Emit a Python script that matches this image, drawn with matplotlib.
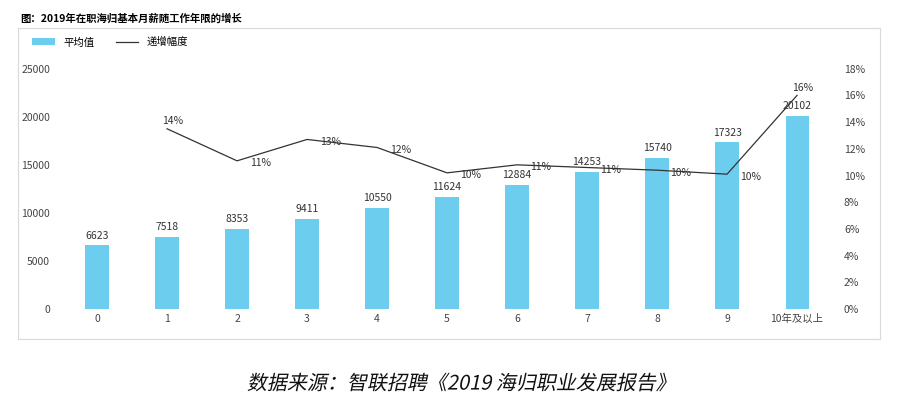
import matplotlib.pyplot as plt
from matplotlib.ticker import FuncFormatter
from matplotlib.textpath import TextPath
from matplotlib.patches import PathPatch
from matplotlib.font_manager import FontProperties
from matplotlib.transforms import Affine2D

plt.rcParams['font.family'] = ['Noto Sans CJK SC', 'DejaVu Sans']

years = ['0', '1', '2', '3', '4', '5', '6', '7', '8', '9', '10年及以上']
salary = [6623, 7518, 8353, 9411, 10550, 11624, 12884, 14253, 15740, 17323, 20102]
growth = [None, 13.5, 11.1, 12.7, 12.1, 10.2, 10.8, 10.6, 10.4, 10.1, 16.0]
growth_labels = ['', '14%', '11%', '13%', '12%', '10%', '11%', '11%', '10%', '10%', '16%']

fig = plt.figure(figsize=(9.17, 4.04), dpi=100)
fig.text(0.022, 0.955, '图：2019年在职海归基本月薪随工作年限的增长', fontsize=7.5,
         fontweight='bold', va='center')

# frame of the chart area
frame = fig.add_axes([0.02, 0.16, 0.94, 0.77])
frame.set_xticks([]); frame.set_yticks([])
for s in frame.spines.values():
    s.set_color('#d9d9d9'); s.set_linewidth(0.8)
frame.patch.set_alpha(0)

ax = fig.add_axes([0.06, 0.235, 0.855, 0.595])
x = list(range(len(years)))
ax.bar(x, salary, width=0.33, color='#6dcdee', label='平均值')
for i, v in enumerate(salary):
    ax.text(i, v + 500, str(v), ha='center', va='bottom', fontsize=7.5, color='#333333')
ax.set_ylim(0, 25000)
ax.set_yticks(range(0, 25001, 5000))
ax.set_xlim(-0.6, 10.6)
ax.set_xticks(x)
ax.set_xticklabels(years)
ax.tick_params(length=0, labelsize=7.5, colors='#444444')
for s in ax.spines.values():
    s.set_visible(False)

ax2 = ax.twinx()
xs = x[1:]
ax2.plot(xs, growth[1:], color='#333333', lw=0.9, label='递增幅度')
for i in xs:
    top = i in (1, 10)
    ax2.text(i + (0.08 if top else 0.18), growth[i] + 0.2, growth_labels[i], fontsize=7.5,
             color='#333333', ha='center' if top else 'left', va='bottom' if top else 'top')
ax2.set_ylim(0, 18)
ax2.set_yticks(range(0, 19, 2))
ax2.yaxis.set_major_formatter(FuncFormatter(lambda v, p: f'{int(v)}%'))
ax2.tick_params(length=0, labelsize=7.5, colors='#444444')
for s in ax2.spines.values():
    s.set_visible(False)

h1, l1 = ax.get_legend_handles_labels()
h2, l2 = ax2.get_legend_handles_labels()
fig.legend(h1 + h2, l1 + l2, loc='center left', bbox_to_anchor=(0.025, 0.895), ncol=2,
           frameon=False, fontsize=7.5, handlelength=2.2, columnspacing=2)

# caption, slanted by hand since the CJK font has no italic
cap = fig.add_axes([0, 0, 1, 0.14])
cap.set_axis_off()
cap.set_xlim(0, 917); cap.set_ylim(0, 56.6)
tp = TextPath((0, 0), '数据来源：智联招聘《2019 海归职业发展报告》', size=20,
              prop=FontProperties(family='Noto Sans CJK SC'))
bb = tp.get_extents()
tr = Affine2D().translate(-bb.x0 - bb.width / 2, -bb.y0 - bb.height / 2).skew_deg(12, 0).translate(458, 22)
cap.add_patch(PathPatch(tr.transform_path(tp), color='#111111', lw=0))

fig.savefig('out.png', dpi=100)
